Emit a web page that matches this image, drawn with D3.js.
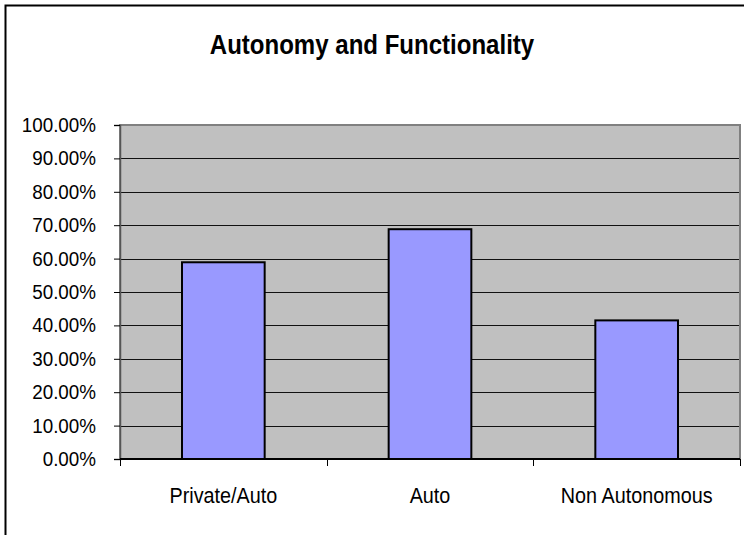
<!DOCTYPE html>
<meta charset="utf-8">
<style>
  body { margin: 0; background: #fff; }
  text { font-family: "Liberation Sans", Arial, sans-serif; fill: #000; }
</style>
<body>
<svg width="744" height="535"></svg>
<script src="https://cdn.jsdelivr.net/npm/d3@7"></script>
<script>

var categories = ["Private/Auto", "Auto", "Non Autonomous"];
var values = [0.589, 0.688, 0.415];
var yTicks = [0, 0.1, 0.2, 0.3, 0.4, 0.5, 0.6, 0.7, 0.8, 0.9, 1.0];
var title = "Autonomy and Functionality";

var svg = d3.select("svg");

var plot = {left: 120, top: 125, right: 740, bottom: 459};

// squeeze text horizontally, the source font is a narrow one
function narrow(sel, k) {
    sel.each(function () {
        var w = this.getComputedTextLength();
        d3.select(this)
            .attr("textLength", w * k)
            .attr("lengthAdjust", "spacingAndGlyphs");
    });
}

// outer frame (runs off the right and bottom edge)
svg.append("rect")
    .attr("x", 5.5).attr("y", 5.5)
    .attr("width", 800).attr("height", 600)
    .attr("fill", "none")
    .attr("stroke", "#000")
    .attr("stroke-width", 2);

svg.append("text")
    .attr("x", 372)
    .attr("y", 54)
    .attr("text-anchor", "middle")
    .style("font-size", "27px")
    .style("font-weight", "bold")
    .text(title)
    .call(narrow, 0.89);

var x = d3.scaleBand()
    .domain(categories)
    .range([plot.left, plot.right])
    .paddingInner(0.6)
    .paddingOuter(0.3);

var y = d3.scaleLinear()
    .domain([0, 1])
    .range([plot.bottom, plot.top]);

// plot background
svg.append("rect")
    .attr("x", plot.left)
    .attr("y", plot.top)
    .attr("width", plot.right - plot.left)
    .attr("height", plot.bottom - plot.top)
    .attr("fill", "#c0c0c0")
    .attr("stroke", "#808080")
    .attr("stroke-width", 2);

// gridlines
svg.selectAll(".grid")
    .data(yTicks.slice(1, -1))
    .enter().append("line")
    .attr("x1", plot.left)
    .attr("x2", plot.right - 1)
    .attr("y1", function (d) { return Math.round(y(d)) + 0.5; })
    .attr("y2", function (d) { return Math.round(y(d)) + 0.5; })
    .attr("stroke", "#111")
    .attr("stroke-width", 1.2);

// bars
svg.selectAll(".bar")
    .data(values)
    .enter().append("rect")
    .attr("class", "bar")
    .attr("x", function (d, i) { return x(categories[i]); })
    .attr("width", x.bandwidth())
    .attr("y", function (d) { return y(d); })
    .attr("height", function (d) { return plot.bottom - y(d); })
    .attr("fill", "#9999ff")
    .attr("stroke", "#000")
    .attr("stroke-width", 2);

// y axis
var yAxis = svg.append("g")
    .attr("transform", "translate(" + plot.left + ",0)")
    .call(d3.axisLeft(y).tickValues(yTicks).tickFormat(d3.format(".2%")).tickSize(6).tickPadding(18));
yAxis.select(".domain").attr("stroke", "#555").attr("stroke-width", 1.5);
yAxis.selectAll(".tick line").attr("stroke", "#000");
yAxis.selectAll("text")
    .style("font-size", "20px")
    .attr("fill", "#000")
    .call(narrow, 0.94);

// x axis
var bounds = [plot.left, plot.left + (plot.right - plot.left) / 3, plot.left + 2 * (plot.right - plot.left) / 3, plot.right];
var xAxis = svg.append("g")
    .attr("transform", "translate(0," + plot.bottom + ")");
xAxis.append("line")
    .attr("x1", plot.left).attr("x2", plot.right)
    .attr("y1", 0).attr("y2", 0)
    .attr("stroke", "#000").attr("stroke-width", 2);
xAxis.selectAll(".xtick")
    .data(bounds)
    .enter().append("line")
    .attr("x1", function (d) { return Math.round(d) + 0.5; })
    .attr("x2", function (d) { return Math.round(d) + 0.5; })
    .attr("y1", 0).attr("y2", 7)
    .attr("stroke", "#000");
xAxis.selectAll(".xlabel")
    .data(categories)
    .enter().append("text")
    .attr("x", function (d) { return x(d) + x.bandwidth() / 2; })
    .attr("y", 44)
    .attr("text-anchor", "middle")
    .style("font-size", "21.5px")
    .text(function (d) { return d; })
    .call(narrow, 0.92);

</script>
</body>
